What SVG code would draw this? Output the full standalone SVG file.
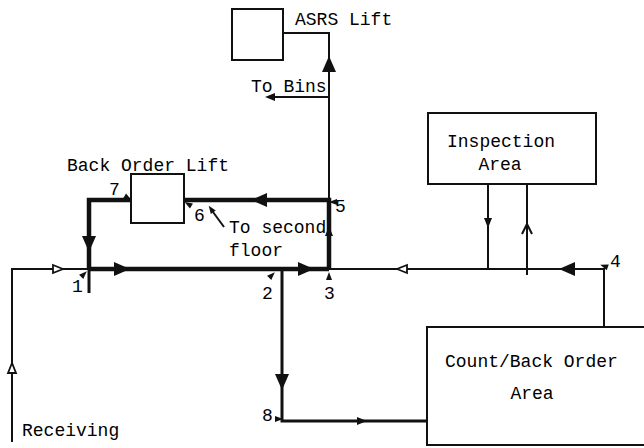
<svg xmlns="http://www.w3.org/2000/svg" xmlns:xlink="http://www.w3.org/1999/xlink" width="644" height="448" viewBox="0 0 644 448">
<style>
  text { font-family: "Liberation Mono", "DejaVu Sans Mono", monospace; font-size: 18px; fill: #000; }
  .box { fill: #fff; stroke: #111; stroke-width: 2; }
  .thin { fill: none; stroke: #111; stroke-width: 2; }
  .mid { fill: none; stroke: #111; stroke-width: 3; }
  .thick { fill: none; stroke: #111; stroke-width: 4.5; }
  .ah { fill: #111; }
  .oh { fill: #fff; stroke: #111; stroke-width: 1.8; }
</style>
<defs>
  <path id="big" d="M8,0 L-8,-7 L-8,7 Z"/>
  <path id="sm" d="M5,0 L-5,-4 L-5,4 Z"/>
  <path id="tiny" d="M4,0 L-4,-3 L-4,3 Z"/>
</defs>

<g id="asrs-lift">
  <rect class="box" x="232" y="9" width="51" height="51"/>
  <text x="295" y="25">ASRS Lift</text>
</g>
<g id="back-order-lift">
  <rect class="box" x="131" y="174" width="53" height="49"/>
  <text x="67" y="171">Back Order Lift</text>
</g>
<g id="inspection-area">
  <rect class="box" x="428" y="113" width="168" height="71"/>
  <text x="447" y="147">Inspection</text>
  <text x="500" y="170" text-anchor="middle">Area</text>
</g>
<g id="count-back-order-area">
  <rect class="box" x="427" y="327" width="230" height="118"/>
  <text x="445" y="367">Count/Back Order</text>
  <text x="532" y="399" text-anchor="middle">Area</text>
</g>

<g id="labels">
  <text x="251" y="92">To Bins</text>
  <text x="229" y="233">To second</text>
  <text x="229" y="256">floor</text>
  <text x="22" y="436">Receiving</text>
  <text x="72" y="292">1</text>
  <text x="262" y="299">2</text>
  <text x="324" y="299">3</text>
  <text x="610" y="267">4</text>
  <text x="335" y="212">5</text>
  <text x="194" y="221">6</text>
  <text x="109" y="195">7</text>
  <text x="262" y="421">8</text>
</g>

<g id="connectors">
  <!-- receiving -->
  <path class="thin" d="M12,442 L12,269 L89,269"/>
  <use href="#sm" class="oh" transform="translate(12,368) rotate(-90)"/>
  <use href="#sm" class="oh" transform="translate(58,269)"/>
  <!-- main thick -->
  <path class="thick" d="M89,269 L329,269"/>
  <use href="#big" class="ah" transform="translate(122,269)"/>
  <use href="#big" class="ah" transform="translate(306,269)"/>
  <!-- main thin right -->
  <path class="thin" d="M329,269 L604,269 L604,327"/>
  <use href="#sm" class="oh" transform="translate(402,269) rotate(180)"/>
  <use href="#big" class="ah" transform="translate(567,269) rotate(180)"/>
  <!-- left loop -->
  <path class="thick" d="M131,200 L89,200 L89,269"/>
  <path class="mid" d="M89,269 L89,293"/>
  <use href="#big" class="ah" transform="translate(89,244) rotate(90)"/>
  <!-- back order return -->
  <path class="thick" d="M329,269 L329,200 L184,200"/>
  <use href="#big" class="ah" transform="translate(259,200) rotate(180)"/>
  <use href="#sm" class="ah" transform="translate(329,231) rotate(-90)"/>
  <!-- to ASRS -->
  <path class="thin" d="M329,200 L329,33 L283,33"/>
  <use href="#big" class="ah" transform="translate(329,64) rotate(-90)"/>
  <!-- to bins -->
  <path class="thin" d="M329,97 L268,97"/>
  <use href="#sm" class="ah" transform="translate(270,97) rotate(180)"/>
  <!-- point 2 down to count -->
  <path class="mid" d="M282,269 L282,421 L427,421"/>
  <use href="#big" class="ah" transform="translate(282,382) rotate(90)"/>
  <use href="#sm" class="ah" transform="translate(362,421)"/>
  <!-- inspection -->
  <path class="thin" d="M488,184 L488,269"/>
  <use href="#sm" class="ah" transform="translate(488,223) rotate(90)"/>
  <path class="thin" d="M527,184 L527,275"/>
  <path class="thin" d="M522,234 L527,224 L532,234"/>
  <!-- to second floor pointer -->
  <path class="thin" d="M224,227 L213,212" stroke-width="1.5"/>
  <use href="#tiny" class="ah" transform="translate(211,209) rotate(-125)"/>
  <!-- number pointers -->
  <use href="#tiny" class="ah" transform="translate(84,274) rotate(-45)"/>
  <use href="#tiny" class="ah" transform="translate(128,198) rotate(30)"/>
  <use href="#tiny" class="ah" transform="translate(188,204) rotate(-150)"/>
  <use href="#tiny" class="ah" transform="translate(333,202) rotate(180)"/>
  <use href="#tiny" class="ah" transform="translate(272,275) rotate(-45)"/>
  <use href="#tiny" class="ah" transform="translate(329,276) rotate(-90)"/>
  <use href="#tiny" class="ah" transform="translate(604,266) rotate(-160)"/>
  <use href="#tiny" class="ah" transform="translate(279,419)"/>
</g>
</svg>
